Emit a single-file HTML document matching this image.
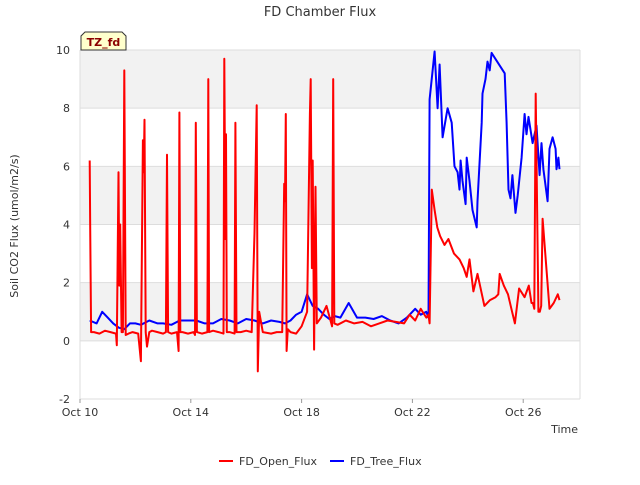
<!DOCTYPE html>
<html><head><meta charset="utf-8"><style>
body{margin:0;background:#fff;font-family:"Liberation Sans","DejaVu Sans",sans-serif;}
svg text{font-family:"DejaVu Sans","Liberation Sans",sans-serif;}
</style></head><body>
<svg id="chart" width="640" height="480" xmlns="http://www.w3.org/2000/svg">
<text x="320" y="16" text-anchor="middle" font-size="13" fill="#333">FD Chamber Flux</text>
<g id="bands"></g>
<g id="grid"></g>
<g id="yticks"></g>
<g id="xticks"></g>
<text transform="translate(18,226) rotate(-90)" text-anchor="middle" font-size="11" fill="#333">Soil CO2 Flux (umol/m2/s)</text>
<text x="578" y="433" text-anchor="end" font-size="11" fill="#333">Time</text>
<g id="series"></g>
<g>
<path d="M81,50 L81,36 L85,32 L122,32 L126,36 L126,50 Z" fill="#ffffcc" stroke="#333" stroke-width="1"/>
<text x="103.5" y="46" text-anchor="middle" font-size="11" font-weight="bold" fill="#8b0000">TZ_fd</text>
</g>
<g>
<g><line x1="219" y1="461" x2="233" y2="461" stroke="#f00" stroke-width="2"/><text x="239" y="465" font-size="11" fill="#333">FD_Open_Flux</text></g>
<g><line x1="330" y1="461" x2="344" y2="461" stroke="#00f" stroke-width="2"/><text x="350" y="465" font-size="11" fill="#333">FD_Tree_Flux</text></g>
</g>
</svg>
<script>
const yTicks=[-2,0,2,4,6,8,10];
const xTickDays=[0,4,8,12,16];
const xTickLabels=["Oct 10","Oct 14","Oct 18","Oct 22","Oct 26"];
const openDays=[0.35,0.37,0.4,0.5,0.7,0.9,1.1,1.3,1.33,1.39,1.42,1.45,1.5,1.55,1.6,1.65,1.75,1.9,2.1,2.2,2.27,2.3,2.33,2.37,2.42,2.5,2.6,2.8,3.0,3.1,3.14,3.18,3.3,3.5,3.56,3.59,3.62,3.7,3.9,4.1,4.15,4.18,4.22,4.4,4.6,4.63,4.66,4.8,5.0,5.18,5.21,5.25,5.27,5.3,5.4,5.58,5.61,5.65,5.8,6.0,6.2,6.3,6.38,6.42,6.47,6.6,6.9,7.1,7.3,7.37,7.4,7.43,7.46,7.5,7.6,7.8,8.0,8.2,8.3,8.33,8.37,8.4,8.45,8.5,8.55,8.7,8.9,9.1,9.14,9.18,9.3,9.6,9.9,10.2,10.5,10.8,11.1,11.4,11.7,11.9,12.1,12.3,12.5,12.58,12.62,12.7,12.8,12.9,13.0,13.16,13.3,13.5,13.7,13.85,13.96,14.06,14.2,14.35,14.6,14.8,15.0,15.1,15.15,15.3,15.45,15.6,15.7,15.85,16.05,16.2,16.3,16.35,16.4,16.45,16.55,16.6,16.65,16.7,16.95,17.1,17.25,17.31];
const openVals=[6.2,3.9,0.3,0.3,0.25,0.35,0.3,0.25,-0.15,5.8,1.9,4.0,0.3,0.3,9.3,0.2,0.25,0.3,0.25,-0.7,6.9,5.8,7.6,0.3,-0.2,0.3,0.35,0.3,0.25,0.3,6.4,0.3,0.25,0.3,-0.35,7.85,0.3,0.3,0.25,0.3,0.2,7.5,0.3,0.25,0.3,9.0,0.3,0.35,0.3,0.25,9.7,3.5,7.1,0.3,0.3,0.25,7.5,0.3,0.3,0.35,0.3,3.7,8.1,-1.05,1.0,0.3,0.25,0.3,0.3,5.4,4.8,7.8,-0.35,0.4,0.3,0.25,0.5,1.0,7.8,9.0,2.5,6.2,-0.3,5.3,0.6,0.8,1.2,0.5,9.0,0.6,0.55,0.7,0.6,0.65,0.5,0.6,0.7,0.65,0.6,0.9,0.7,1.1,0.8,0.9,0.6,5.2,4.5,3.9,3.6,3.3,3.5,3.0,2.8,2.5,2.2,2.8,1.7,2.3,1.2,1.4,1.5,1.6,2.3,1.9,1.6,1.0,0.6,1.8,1.5,1.9,1.3,1.3,1.1,8.5,1.0,1.0,1.2,4.2,1.1,1.3,1.6,1.4,1.0,1.1];
const treeDays=[0.35,0.6,0.8,1.0,1.2,1.4,1.6,1.8,2.0,2.2,2.5,2.8,3.0,3.3,3.6,3.9,4.2,4.5,4.8,5.1,5.4,5.7,6.0,6.3,6.6,6.9,7.2,7.4,7.6,7.8,8.0,8.2,8.4,8.6,8.8,9.0,9.2,9.4,9.7,10.0,10.3,10.6,10.9,11.2,11.5,11.8,12.1,12.3,12.5,12.58,12.62,12.8,12.91,12.98,13.09,13.27,13.42,13.52,13.63,13.7,13.74,13.81,13.92,13.96,14.06,14.17,14.32,14.35,14.5,14.53,14.64,14.71,14.79,14.86,15.33,15.4,15.47,15.54,15.61,15.72,15.8,15.94,16.05,16.12,16.19,16.34,16.48,16.59,16.66,16.73,16.88,16.95,17.06,17.17,17.2,17.27,17.31];
const treeVals=[0.7,0.6,1.0,0.8,0.6,0.45,0.4,0.6,0.6,0.55,0.7,0.6,0.6,0.55,0.7,0.7,0.7,0.6,0.6,0.75,0.7,0.6,0.75,0.7,0.6,0.7,0.65,0.6,0.7,0.9,1.0,1.6,1.2,1.1,0.9,0.75,0.85,0.8,1.3,0.8,0.8,0.75,0.85,0.7,0.6,0.8,1.1,0.9,1.0,0.8,8.3,9.95,8.0,9.5,7.0,8.0,7.5,6.0,5.8,5.2,6.2,5.5,4.7,6.3,5.5,4.5,3.9,4.8,7.5,8.5,9.0,9.6,9.3,9.9,9.2,7.5,5.2,4.9,5.7,4.4,5.0,6.3,7.8,7.1,7.7,6.8,7.4,5.7,6.8,5.9,4.8,6.6,7.0,6.6,5.9,6.3,5.9];
const X0=80,X1=580,Y0=399,Y1=50;
function xs(d){return X0+(d-0)*(X1-X0)/18.05;}
function ys(v){return Y0-(v+2)*(Y0-Y1)/12;}
const NS="http://www.w3.org/2000/svg";
function mk(t,a,p){const e=document.createElementNS(NS,t);for(const k in a)e.setAttribute(k,a[k]);p.appendChild(e);return e;}
const bands=document.getElementById('bands');
for(let i=0;i<yTicks.length-1;i++){
 const r=mk('rect',{x:X0,y:ys(yTicks[i+1]),width:X1-X0,height:ys(yTicks[i])-ys(yTicks[i+1]),fill:(i%2===1)?'#f2f2f2':'#ffffff'},bands);
 
 
}
const grid=document.getElementById('grid'),yt=document.getElementById('yticks'),xt=document.getElementById('xticks');
yTicks.forEach(v=>{
 const l=mk('line',{x1:X0,x2:X1,y1:ys(v),y2:ys(v),stroke:'#dddddd','stroke-width':1},grid);
 
 
 const t=mk('text',{x:X0-10,y:ys(v)+4,'text-anchor':'end','font-size':11,fill:'#333'},yt);
 t.textContent=v;
 
 
});
mk('line',{x1:X0,x2:X0,y1:Y1,y2:Y0,stroke:'#dddddd'},grid);
mk('line',{x1:X1,x2:X1,y1:Y1,y2:Y0,stroke:'#dddddd'},grid);
xTickDays.forEach((d,i)=>{
 mk('line',{x1:xs(d),x2:xs(d),y1:Y0,y2:Y0+4,stroke:'#999'},xt);
 const t=mk('text',{x:xs(d),y:Y0+17,'text-anchor':'middle','font-size':11,fill:'#333'},xt);
 t.textContent=xTickLabels[i];
 
 
});
const ser=document.getElementById('series');
function line(ds,vs,c,name){
 const p=mk('polyline',{points:ds.map((d,i)=>xs(d).toFixed(1)+','+ys(vs[i]).toFixed(1)).join(' '),fill:'none',stroke:c,'stroke-width':2,'stroke-linejoin':'round'},ser);
 
 
}
line(treeDays,treeVals,'#0000ff','fd-tree-flux-line');
line(openDays,openVals,'#ff0000','fd-open-flux-line');
</script>
</body></html>
